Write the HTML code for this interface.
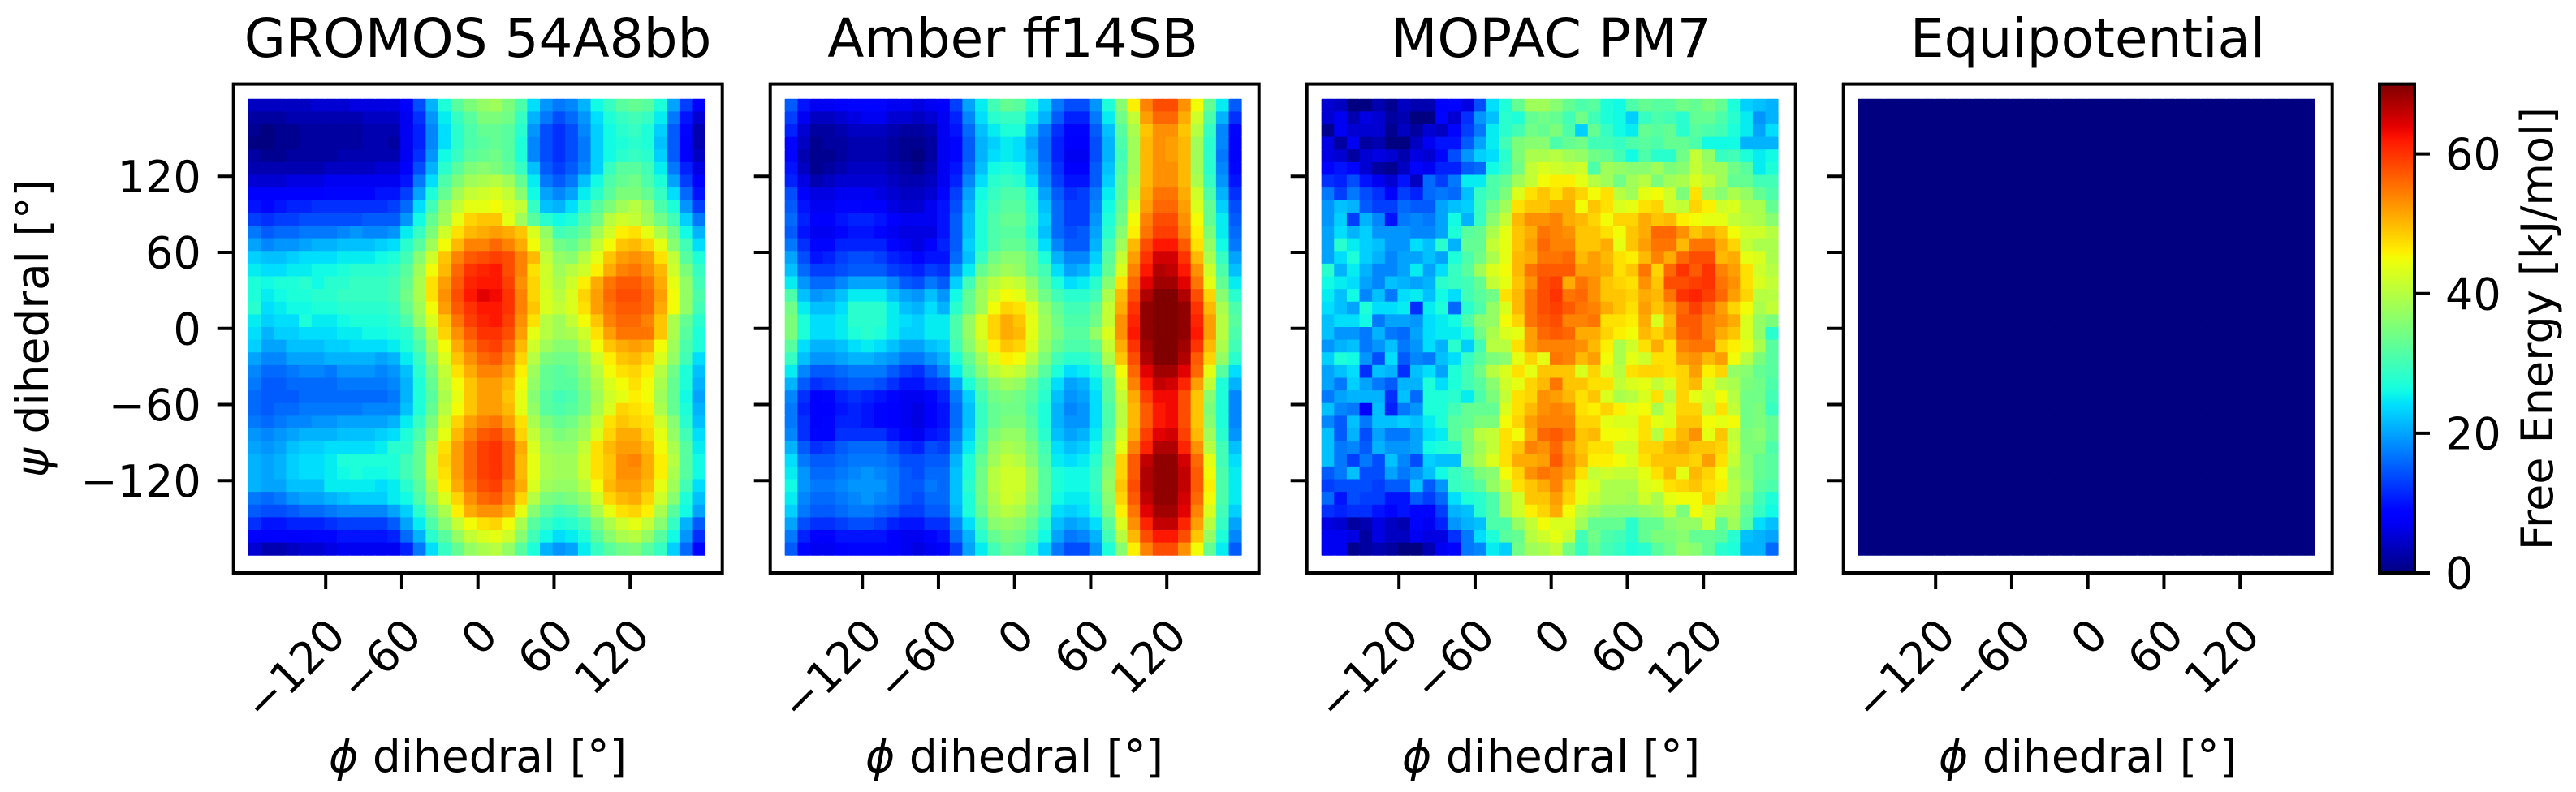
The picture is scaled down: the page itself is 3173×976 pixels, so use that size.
<!DOCTYPE html>
<html lang="en">
<head>
<meta charset="utf-8">
<title>Free energy surfaces</title>
<style>
html,body{margin:0;padding:0;background:#fff;}
svg{display:block;}
text{font-family:"DejaVu Sans","Liberation Sans",sans-serif;fill:#000;}
</style>
</head>
<body>
<svg id="figure" xmlns="http://www.w3.org/2000/svg" width="3173" height="976" viewBox="0 0 3173 976">
<defs>
<linearGradient id="jetGradient" x1="0" y1="1" x2="0" y2="0"></linearGradient>
</defs>
<rect x="0" y="0" width="3173" height="976" fill="#fff"/>
<text x="588.6" y="70" font-size="66" text-anchor="middle">GROMOS 54A8bb</text>
<text x="1247.6" y="70" font-size="66" text-anchor="middle">Amber ff14SB</text>
<text x="1910.6" y="70" font-size="66" text-anchor="middle">MOPAC PM7</text>
<text x="2571.6" y="70" font-size="66" text-anchor="middle">Equipotential</text>
<text x="0" y="0" font-size="55" text-anchor="middle" transform="translate(59 404.7) rotate(-90)"><tspan font-style="italic">ψ</tspan> dihedral [°]</text>
<text x="588.6" y="951" font-size="55" text-anchor="middle"><tspan font-style="italic">ϕ</tspan> dihedral [°]</text>
<text x="1249.6" y="951" font-size="55" text-anchor="middle"><tspan font-style="italic">ϕ</tspan> dihedral [°]</text>
<text x="1910.6" y="951" font-size="55" text-anchor="middle"><tspan font-style="italic">ϕ</tspan> dihedral [°]</text>
<text x="2571.6" y="951" font-size="55" text-anchor="middle"><tspan font-style="italic">ϕ</tspan> dihedral [°]</text>
<text x="0" y="0" font-size="54" text-anchor="middle" transform="translate(3144 405) rotate(-90)">Free Energy [kJ/mol]</text>
<g id="plots"></g>
<g id="colorbar"></g>
</svg>
<script>
const phiBins = [-176,-166,-156,-146,-136,-126,-116,-106,-96,-86,-76,-66,-56,-46,-36,-26,-16,-6,4,14,24,34,44,54,64,74,84,94,104,114,124,134,144,154,164,174];
const psiBins = [176,166,156,146,136,126,116,106,96,86,76,66,56,46,36,26,16,6,-4,-14,-24,-34,-44,-54,-64,-74,-84,-94,-104,-114,-124,-134,-144,-154,-164,-174];
const xTickValues = [-120,-60,0,60,120];
const xTickLabels = ['−120','−60','0','60','120'];
const yTickValues = [120,60,0,-60,-120];
const yTickLabels = ['120','60','0','−60','−120'];
const colorbarTicks = [0,20,40,60];
const colorbarLabels = ['0','20','40','60'];
const energyMax = 70;

const gromosValues = [
[4,4,4,4,4,5,5,5,6,6,6,6,8,14,21,27,32,35,37,38,35,31,24,19,17,18,21,26,29,32,33,32,27,20,13,8],
[2,2,2,3,3,3,3,3,3,4,4,4,7,12,19,25,29,32,35,35,34,29,21,17,14,16,19,24,27,29,30,29,25,17,10,5],
[1,0,1,1,2,2,2,2,2,3,3,3,7,11,18,24,28,31,33,33,32,28,19,14,12,14,18,23,26,28,29,27,23,15,9,3],
[0,0,1,1,2,2,2,2,2,3,3,2,7,11,18,24,28,31,32,33,32,27,18,14,12,14,17,23,26,27,28,27,22,15,8,3],
[2,1,1,2,2,2,2,3,3,3,3,3,7,12,19,26,29,32,33,34,32,27,18,14,12,14,17,23,26,28,29,28,23,15,8,4],
[3,3,3,3,3,3,4,4,4,4,5,5,8,14,21,28,32,35,36,35,33,29,22,15,13,15,18,23,29,32,32,30,25,17,11,6],
[5,5,5,6,6,6,7,7,7,7,7,7,10,17,24,31,35,38,39,40,38,33,25,17,15,17,22,26,31,33,34,31,27,20,13,8],
[8,8,8,8,8,8,9,9,9,9,10,10,13,20,27,33,38,41,42,43,41,36,26,20,18,20,25,28,32,35,35,33,29,24,16,10],
[10,9,10,11,11,12,12,12,12,12,12,13,16,24,30,37,41,44,44,45,43,41,29,22,21,24,28,32,35,38,40,37,31,27,19,13],
[13,12,13,13,14,14,14,14,14,15,15,15,19,26,33,38,44,48,49,49,44,38,32,28,26,27,31,34,40,42,41,38,34,30,23,17],
[17,15,16,16,17,17,17,18,19,18,18,19,25,29,35,42,47,50,51,52,51,49,43,37,30,31,33,38,42,46,47,44,39,34,26,21],
[20,18,19,19,20,21,21,22,22,22,23,24,28,32,38,45,50,54,54,56,54,51,45,39,34,33,36,41,45,49,50,48,44,36,30,24],
[23,22,22,23,24,24,24,25,25,25,26,27,30,36,42,49,54,57,58,59,58,54,50,41,37,36,40,44,49,52,53,52,47,41,32,27],
[25,24,24,25,25,26,26,27,28,28,28,29,32,38,45,50,56,60,61,62,58,54,47,42,38,40,42,46,51,54,55,53,50,42,35,29],
[27,26,27,27,28,26,28,28,29,29,29,30,33,39,47,52,57,61,62,62,59,53,48,42,39,42,46,51,55,57,57,55,51,44,37,30],
[27,25,26,27,27,28,28,29,29,29,29,30,34,39,47,53,58,62,64,63,60,54,48,43,40,43,48,52,56,58,58,56,52,45,37,31],
[28,24,25,26,26,27,27,28,28,28,28,29,33,38,45,52,57,60,62,62,60,54,49,43,41,43,47,52,55,57,57,56,51,45,37,30],
[25,23,24,24,27,25,25,26,27,27,27,28,31,37,43,49,55,59,61,62,59,53,47,40,38,41,45,49,54,56,56,54,49,39,33,28],
[24,21,23,23,24,24,24,25,25,26,26,27,28,33,40,48,53,57,60,60,58,52,44,40,38,39,42,47,52,55,55,55,49,39,32,27],
[23,20,20,22,22,22,23,23,24,24,24,25,27,31,38,45,51,55,58,59,56,50,42,38,36,36,40,45,49,51,52,51,45,38,31,27],
[20,18,18,20,20,20,21,21,21,21,20,21,25,29,36,43,49,53,56,57,54,48,40,35,34,34,37,42,46,49,50,48,43,37,30,24],
[18,16,16,17,18,18,17,19,19,19,18,19,22,28,34,41,47,51,54,54,52,46,38,33,32,33,36,40,45,47,48,46,40,34,27,22],
[17,15,15,16,16,16,16,17,17,17,17,18,21,27,33,40,45,49,52,52,50,45,37,33,32,32,35,39,43,45,47,45,39,33,27,21],
[16,15,15,15,16,16,16,16,16,16,16,17,21,27,32,39,44,49,52,52,49,44,36,32,30,31,34,38,42,44,46,45,38,33,26,20],
[16,15,16,16,17,17,17,17,17,18,18,18,22,27,33,40,45,49,52,52,50,44,37,32,31,32,34,39,43,48,47,46,39,33,27,21],
[17,16,17,18,18,19,19,20,20,20,20,21,25,29,35,42,48,52,54,55,52,47,39,35,33,34,37,41,47,49,48,47,42,36,28,22],
[19,18,19,20,21,21,21,22,22,22,23,24,27,31,37,44,50,54,57,58,55,48,41,37,35,36,38,43,48,51,51,48,44,37,30,24],
[20,19,20,22,23,23,24,24,24,24,25,28,28,33,40,47,52,56,59,60,57,51,43,38,37,37,41,47,50,52,52,50,45,39,32,25],
[21,20,21,23,24,24,25,27,27,27,27,27,30,33,41,48,52,56,59,60,57,50,44,39,38,38,42,47,49,53,54,51,46,40,32,26],
[21,20,21,23,24,24,25,26,27,26,26,27,30,33,41,47,52,56,59,60,57,50,44,39,38,38,42,47,49,53,53,51,46,39,32,26],
[21,20,20,22,22,22,25,25,25,25,24,25,28,32,39,46,51,55,58,59,55,51,43,38,37,37,40,45,50,52,52,50,44,38,30,24],
[17,16,17,19,20,20,21,22,23,23,23,25,26,31,37,43,48,53,56,57,54,48,40,35,34,35,37,42,48,50,51,48,42,36,27,22],
[15,14,14,15,16,16,17,18,18,18,18,20,23,28,34,39,46,51,53,53,51,44,36,32,30,31,34,39,44,47,48,46,39,32,26,20],
[12,10,10,11,11,11,12,13,13,13,13,15,20,25,31,36,41,45,47,48,45,39,32,29,27,28,30,35,39,42,44,41,36,29,21,15],
[8,8,8,8,8,9,9,10,10,10,10,11,16,21,28,32,37,41,43,44,42,36,30,26,24,25,27,32,36,39,40,37,32,26,19,12],
[5,3,3,4,5,5,6,7,7,7,7,7,11,17,24,29,33,37,39,40,37,32,27,21,19,20,25,29,32,34,35,32,29,23,16,9]
];
const amberValues = [
[15,10,7,7,8,9,9,9,7,7,6,7,8,13,20,25,30,33,32,27,23,17,14,14,19,27,36,46,54,58,58,53,45,33,25,15],
[13,7,4,4,5,6,7,7,5,5,4,5,7,11,18,24,28,29,29,25,21,15,11,11,17,25,34,41,52,56,56,51,42,31,21,12],
[11,5,2,2,3,4,4,4,3,2,2,3,7,10,16,22,25,27,27,22,17,12,9,9,15,22,32,39,49,53,53,49,40,29,18,9],
[9,4,1,2,2,3,3,3,2,1,1,2,7,9,15,21,23,25,24,20,16,11,8,8,14,21,31,38,50,53,52,50,38,28,18,8],
[9,3,1,1,2,3,3,3,2,1,0,2,7,9,15,21,24,25,24,21,16,11,7,7,14,21,30,38,50,53,52,50,38,28,17,8],
[10,4,1,2,3,4,4,4,3,2,1,3,7,10,16,22,26,27,26,22,17,12,8,8,15,22,31,38,50,53,53,50,38,28,18,9],
[11,6,3,4,5,5,5,5,4,3,3,4,7,11,18,24,28,29,28,24,18,13,10,10,15,23,32,39,50,53,53,50,39,29,19,10],
[14,8,6,6,7,7,7,6,5,4,4,5,9,13,20,26,29,31,31,27,20,15,12,13,17,25,32,40,51,55,55,51,42,31,21,12],
[15,10,7,7,9,9,8,8,6,5,5,7,10,14,21,27,30,32,32,28,22,16,13,13,18,26,33,43,52,56,56,52,43,33,23,14],
[16,11,8,8,10,11,11,10,8,7,7,7,10,15,22,27,31,33,33,29,23,16,13,13,19,27,34,45,54,58,58,53,45,33,25,15],
[15,10,7,7,9,10,10,9,7,6,6,6,10,15,22,27,31,32,32,28,22,16,14,15,20,28,36,46,55,59,59,54,46,35,25,16],
[17,12,9,9,11,11,11,11,9,7,6,8,11,15,23,27,31,33,33,30,24,18,15,15,21,30,38,50,58,62,62,57,47,37,26,17],
[20,14,10,11,13,14,14,13,11,10,9,10,10,16,22,29,34,36,36,33,27,21,18,18,23,32,41,52,60,65,65,60,50,39,29,20],
[22,16,13,13,14,15,15,15,13,12,11,13,12,19,25,33,36,38,37,33,30,24,20,21,25,33,43,54,62,67,66,62,53,42,31,22],
[25,19,16,16,18,20,20,20,18,15,14,17,15,23,30,37,40,42,41,37,32,27,24,25,28,36,47,56,64,68,68,64,55,44,33,25],
[31,22,19,20,22,25,25,25,22,20,19,22,19,26,33,38,42,45,44,39,34,30,28,28,30,39,50,58,67,70,70,67,58,48,36,28],
[34,25,22,22,24,28,28,28,25,22,21,24,21,28,33,38,45,48,47,43,37,33,30,30,33,41,51,60,69,70,70,69,60,50,39,31],
[35,27,24,24,25,28,28,28,25,24,23,25,25,31,37,43,48,51,49,44,38,34,31,31,34,41,53,61,69,70,70,69,61,52,40,32],
[35,27,24,24,25,27,28,27,25,23,23,25,25,31,37,43,48,51,50,44,38,35,32,32,37,43,53,62,69,70,70,69,62,52,40,31],
[32,24,21,21,22,24,25,24,22,20,20,22,23,30,36,41,46,49,48,43,37,33,31,31,33,41,51,60,68,70,70,68,60,50,39,30],
[29,22,19,19,20,21,21,20,19,17,17,19,21,27,33,38,43,46,45,40,35,30,28,28,30,39,49,58,67,70,70,67,57,48,37,28],
[25,18,15,15,16,17,17,17,15,13,12,15,18,25,31,36,40,42,41,37,32,27,24,25,27,34,45,56,64,68,68,64,56,44,32,24],
[21,15,12,13,14,15,15,14,12,10,10,12,13,20,27,32,36,38,37,33,29,24,20,21,25,32,43,54,62,66,65,61,52,41,27,21],
[18,12,8,9,11,12,11,10,9,7,7,9,11,17,23,30,34,35,34,32,28,22,19,20,24,32,41,51,59,63,63,58,49,36,27,18],
[17,11,8,8,10,11,10,9,8,7,6,8,10,16,22,29,33,34,34,31,27,21,18,19,24,31,40,50,57,62,63,58,49,35,27,18],
[17,12,8,9,11,11,10,9,8,7,6,8,10,16,22,29,33,35,35,32,27,21,19,19,24,31,40,50,57,62,63,58,49,36,27,18],
[18,12,9,9,12,12,12,12,10,8,7,10,11,17,23,30,35,37,37,33,28,22,20,21,25,32,42,51,59,64,65,59,50,38,28,19],
[21,15,12,13,15,16,16,16,14,12,11,14,13,19,25,31,37,39,38,35,30,24,22,23,26,34,44,54,61,67,67,61,53,40,30,22],
[24,17,15,15,16,17,17,17,16,14,14,15,15,21,27,33,38,41,40,36,31,25,24,25,28,35,48,57,66,69,69,65,56,44,30,24],
[25,19,16,16,17,18,19,18,17,15,14,16,16,22,27,34,40,42,42,38,32,27,26,26,29,36,48,57,67,69,69,66,57,45,31,25],
[26,19,17,17,18,19,19,19,17,15,15,17,16,22,28,34,40,42,42,38,32,27,26,26,29,37,49,58,67,69,69,66,57,46,31,25],
[25,18,16,16,17,18,19,18,17,15,14,16,16,22,27,34,39,42,41,37,32,26,25,25,28,36,48,57,66,69,69,65,56,45,31,25],
[23,17,15,15,16,17,17,16,15,13,13,15,15,21,27,33,38,40,39,35,31,24,23,24,27,35,46,55,64,68,68,64,54,43,30,23],
[20,14,12,12,13,14,14,13,11,10,10,12,12,18,24,30,36,37,36,33,28,22,20,21,24,32,43,53,61,66,66,61,52,40,29,20],
[17,11,8,8,10,10,10,10,8,7,7,9,10,16,21,28,33,35,34,31,26,20,17,18,21,30,40,50,58,62,62,58,49,37,27,18],
[15,9,7,7,8,9,9,9,8,7,6,7,8,13,20,25,30,33,32,28,23,17,14,14,19,27,36,46,54,58,58,53,45,33,25,15]
];
const mopacValues = [
[5,4,0,0,3,1,4,3,3,8,9,6,14,24,27,33,38,38,36,33,31,32,27,26,31,33,32,32,34,33,35,33,27,23,22,21],
[5,7,3,6,5,2,3,0,0,9,5,12,19,22,28,27,33,34,33,30,34,30,27,26,23,29,31,30,28,33,33,31,28,25,19,21],
[1,7,5,5,5,1,4,2,5,4,9,13,17,25,28,30,34,33,35,31,23,33,29,26,25,33,32,33,28,32,31,30,27,25,20,24],
[6,2,7,2,3,0,0,4,7,10,10,15,20,25,30,35,36,36,31,33,34,30,30,29,31,32,31,33,33,31,26,26,26,21,21,21],
[6,5,2,5,6,5,3,6,5,9,14,19,23,24,28,35,39,39,40,38,37,34,33,30,26,31,28,28,34,41,37,29,30,27,25,26],
[9,10,9,5,2,1,4,9,7,11,11,15,16,26,29,34,41,43,42,41,42,31,38,37,36,36,38,35,36,41,38,38,34,32,25,27],
[12,11,14,10,7,5,10,4,16,13,17,25,25,31,33,38,41,45,46,46,44,40,38,34,38,40,35,38,39,43,41,38,33,33,30,30],
[17,13,17,14,12,8,13,11,16,17,16,22,29,31,35,43,47,49,47,50,48,45,47,40,38,44,45,42,35,47,38,36,39,37,33,31],
[19,22,21,15,13,13,16,15,15,20,22,23,29,34,38,47,49,49,51,51,45,49,47,43,44,47,48,42,41,48,46,42,43,39,39,33],
[19,23,13,21,18,10,17,18,17,20,26,21,29,36,41,50,53,53,54,51,50,48,45,48,48,51,49,50,46,45,44,44,41,40,39,36],
[20,24,21,23,19,19,19,18,18,20,27,32,33,39,44,49,51,55,54,53,49,49,47,45,49,51,56,56,53,49,51,49,45,42,42,40],
[20,28,25,23,22,19,19,24,22,28,21,33,33,41,44,49,52,56,54,54,49,49,51,44,49,52,55,55,50,55,55,51,48,41,39,39],
[20,24,27,23,21,18,20,20,22,20,27,31,34,39,44,50,51,55,55,56,50,52,50,47,46,50,54,51,56,58,58,50,51,44,43,39],
[28,21,25,21,18,18,20,25,20,24,29,32,38,43,45,50,55,57,57,57,52,52,51,47,49,55,48,56,60,57,60,54,52,47,42,40],
[26,25,24,20,18,22,21,20,21,28,29,30,33,41,44,49,53,58,59,51,55,53,49,48,47,53,49,58,58,59,60,55,53,47,43,41],
[25,22,26,18,22,17,24,25,22,26,24,30,32,34,47,50,55,58,60,55,56,53,49,49,48,51,50,55,60,61,59,56,52,48,40,40],
[24,22,20,27,24,24,25,12,25,27,16,28,31,37,43,50,55,58,59,57,55,54,51,49,47,52,49,52,56,59,56,52,48,45,39,41],
[22,24,24,26,17,20,20,19,24,25,26,31,36,37,45,48,55,57,58,54,54,55,47,47,46,51,43,50,57,57,54,53,51,43,37,35],
[22,19,19,17,21,17,16,20,24,25,25,27,34,39,43,44,52,56,57,56,51,51,48,46,45,50,48,51,56,57,54,51,49,43,37,28],
[19,21,22,17,19,22,17,19,24,21,28,23,30,40,40,47,52,54,54,54,53,50,46,39,42,47,51,47,54,55,55,48,46,44,39,32],
[23,27,26,19,14,24,15,18,17,22,24,29,32,35,36,44,48,44,55,54,50,52,45,39,44,42,47,47,52,53,50,52,45,40,35,32],
[20,22,24,12,22,21,12,22,24,20,27,30,34,40,43,47,44,49,49,49,43,48,43,40,47,48,48,47,48,52,46,48,37,36,33,32],
[20,17,23,20,17,15,21,21,27,24,27,30,32,36,42,44,48,50,55,49,49,47,47,41,43,44,41,43,48,50,43,40,39,35,34,31],
[17,20,21,21,21,12,22,16,27,27,28,25,31,35,41,47,48,53,52,50,47,49,43,39,40,43,47,40,48,44,42,45,40,34,34,30],
[22,18,17,8,22,11,17,19,27,27,30,33,33,33,43,47,50,53,54,53,47,46,48,46,44,45,39,43,48,48,41,47,41,34,35,29],
[18,15,22,17,22,22,23,22,25,27,32,33,35,35,45,48,52,54,54,54,48,48,44,43,43,47,44,43,49,49,45,44,45,34,35,33],
[22,15,21,14,20,17,17,20,24,25,32,35,40,41,47,45,51,56,57,55,49,50,45,45,44,47,40,47,50,53,44,49,41,35,36,33],
[22,17,18,15,21,19,19,20,26,27,28,35,38,41,47,49,54,53,56,52,49,47,47,42,42,48,48,50,51,49,49,48,42,35,35,31],
[22,17,13,17,14,22,18,14,23,22,22,36,39,43,47,51,51,52,57,53,50,46,46,45,43,47,49,49,49,48,52,47,41,36,33,32],
[15,17,22,14,14,20,17,19,22,26,29,31,35,36,45,48,53,55,54,52,47,41,42,41,41,44,47,50,44,50,48,45,39,36,33,32],
[13,14,14,14,13,15,15,22,15,19,29,30,32,37,41,47,49,51,54,49,44,43,39,39,39,43,44,47,48,49,47,46,40,37,32,31],
[16,10,14,13,13,10,10,15,13,16,24,27,28,31,38,42,49,49,52,48,44,41,39,39,38,42,39,44,45,45,48,42,40,35,30,27],
[12,11,12,12,10,9,10,9,9,13,21,22,28,31,38,42,46,48,51,45,40,38,36,36,36,37,38,41,35,45,42,39,39,33,29,26],
[6,5,2,3,6,4,3,9,7,11,19,21,22,31,31,37,41,45,43,43,38,33,33,33,28,33,33,36,37,37,42,33,38,32,24,22],
[7,7,6,2,6,4,4,7,6,6,12,17,24,27,32,33,40,42,44,41,30,34,31,30,28,33,35,35,36,33,33,32,28,22,21,20],
[7,7,1,2,3,2,0,0,3,7,9,17,18,25,23,34,38,39,41,34,29,33,30,29,27,28,32,34,37,36,33,28,27,21,21,16]
];
const equipotentialValues = [
[0,0,0,0,0,0,0,0,0,0,0,0,0,0,0,0,0,0,0,0,0,0,0,0,0,0,0,0,0,0,0,0,0,0,0,0],
[0,0,0,0,0,0,0,0,0,0,0,0,0,0,0,0,0,0,0,0,0,0,0,0,0,0,0,0,0,0,0,0,0,0,0,0],
[0,0,0,0,0,0,0,0,0,0,0,0,0,0,0,0,0,0,0,0,0,0,0,0,0,0,0,0,0,0,0,0,0,0,0,0],
[0,0,0,0,0,0,0,0,0,0,0,0,0,0,0,0,0,0,0,0,0,0,0,0,0,0,0,0,0,0,0,0,0,0,0,0],
[0,0,0,0,0,0,0,0,0,0,0,0,0,0,0,0,0,0,0,0,0,0,0,0,0,0,0,0,0,0,0,0,0,0,0,0],
[0,0,0,0,0,0,0,0,0,0,0,0,0,0,0,0,0,0,0,0,0,0,0,0,0,0,0,0,0,0,0,0,0,0,0,0],
[0,0,0,0,0,0,0,0,0,0,0,0,0,0,0,0,0,0,0,0,0,0,0,0,0,0,0,0,0,0,0,0,0,0,0,0],
[0,0,0,0,0,0,0,0,0,0,0,0,0,0,0,0,0,0,0,0,0,0,0,0,0,0,0,0,0,0,0,0,0,0,0,0],
[0,0,0,0,0,0,0,0,0,0,0,0,0,0,0,0,0,0,0,0,0,0,0,0,0,0,0,0,0,0,0,0,0,0,0,0],
[0,0,0,0,0,0,0,0,0,0,0,0,0,0,0,0,0,0,0,0,0,0,0,0,0,0,0,0,0,0,0,0,0,0,0,0],
[0,0,0,0,0,0,0,0,0,0,0,0,0,0,0,0,0,0,0,0,0,0,0,0,0,0,0,0,0,0,0,0,0,0,0,0],
[0,0,0,0,0,0,0,0,0,0,0,0,0,0,0,0,0,0,0,0,0,0,0,0,0,0,0,0,0,0,0,0,0,0,0,0],
[0,0,0,0,0,0,0,0,0,0,0,0,0,0,0,0,0,0,0,0,0,0,0,0,0,0,0,0,0,0,0,0,0,0,0,0],
[0,0,0,0,0,0,0,0,0,0,0,0,0,0,0,0,0,0,0,0,0,0,0,0,0,0,0,0,0,0,0,0,0,0,0,0],
[0,0,0,0,0,0,0,0,0,0,0,0,0,0,0,0,0,0,0,0,0,0,0,0,0,0,0,0,0,0,0,0,0,0,0,0],
[0,0,0,0,0,0,0,0,0,0,0,0,0,0,0,0,0,0,0,0,0,0,0,0,0,0,0,0,0,0,0,0,0,0,0,0],
[0,0,0,0,0,0,0,0,0,0,0,0,0,0,0,0,0,0,0,0,0,0,0,0,0,0,0,0,0,0,0,0,0,0,0,0],
[0,0,0,0,0,0,0,0,0,0,0,0,0,0,0,0,0,0,0,0,0,0,0,0,0,0,0,0,0,0,0,0,0,0,0,0],
[0,0,0,0,0,0,0,0,0,0,0,0,0,0,0,0,0,0,0,0,0,0,0,0,0,0,0,0,0,0,0,0,0,0,0,0],
[0,0,0,0,0,0,0,0,0,0,0,0,0,0,0,0,0,0,0,0,0,0,0,0,0,0,0,0,0,0,0,0,0,0,0,0],
[0,0,0,0,0,0,0,0,0,0,0,0,0,0,0,0,0,0,0,0,0,0,0,0,0,0,0,0,0,0,0,0,0,0,0,0],
[0,0,0,0,0,0,0,0,0,0,0,0,0,0,0,0,0,0,0,0,0,0,0,0,0,0,0,0,0,0,0,0,0,0,0,0],
[0,0,0,0,0,0,0,0,0,0,0,0,0,0,0,0,0,0,0,0,0,0,0,0,0,0,0,0,0,0,0,0,0,0,0,0],
[0,0,0,0,0,0,0,0,0,0,0,0,0,0,0,0,0,0,0,0,0,0,0,0,0,0,0,0,0,0,0,0,0,0,0,0],
[0,0,0,0,0,0,0,0,0,0,0,0,0,0,0,0,0,0,0,0,0,0,0,0,0,0,0,0,0,0,0,0,0,0,0,0],
[0,0,0,0,0,0,0,0,0,0,0,0,0,0,0,0,0,0,0,0,0,0,0,0,0,0,0,0,0,0,0,0,0,0,0,0],
[0,0,0,0,0,0,0,0,0,0,0,0,0,0,0,0,0,0,0,0,0,0,0,0,0,0,0,0,0,0,0,0,0,0,0,0],
[0,0,0,0,0,0,0,0,0,0,0,0,0,0,0,0,0,0,0,0,0,0,0,0,0,0,0,0,0,0,0,0,0,0,0,0],
[0,0,0,0,0,0,0,0,0,0,0,0,0,0,0,0,0,0,0,0,0,0,0,0,0,0,0,0,0,0,0,0,0,0,0,0],
[0,0,0,0,0,0,0,0,0,0,0,0,0,0,0,0,0,0,0,0,0,0,0,0,0,0,0,0,0,0,0,0,0,0,0,0],
[0,0,0,0,0,0,0,0,0,0,0,0,0,0,0,0,0,0,0,0,0,0,0,0,0,0,0,0,0,0,0,0,0,0,0,0],
[0,0,0,0,0,0,0,0,0,0,0,0,0,0,0,0,0,0,0,0,0,0,0,0,0,0,0,0,0,0,0,0,0,0,0,0],
[0,0,0,0,0,0,0,0,0,0,0,0,0,0,0,0,0,0,0,0,0,0,0,0,0,0,0,0,0,0,0,0,0,0,0,0],
[0,0,0,0,0,0,0,0,0,0,0,0,0,0,0,0,0,0,0,0,0,0,0,0,0,0,0,0,0,0,0,0,0,0,0,0],
[0,0,0,0,0,0,0,0,0,0,0,0,0,0,0,0,0,0,0,0,0,0,0,0,0,0,0,0,0,0,0,0,0,0,0,0],
[0,0,0,0,0,0,0,0,0,0,0,0,0,0,0,0,0,0,0,0,0,0,0,0,0,0,0,0,0,0,0,0,0,0,0,0]
];
const panelSeries = [gromosValues, amberValues, mopacValues, equipotentialValues];
const panelKeys = ['gromos', 'amber', 'mopac', 'equipotential'];

const SVG_NS = 'http://www.w3.org/2000/svg';
const AX_FIRST_LEFT = 287.7, AX_STEP = 661, AX_SIZE = 602, AX_TOP = 103.6, AX_BOTTOM = 706;
const DEG_PX = 1.5625, TICK_LEN = 20, SPINE = 4, CELL = 16.1;

function axisX(panel, phi) {
  return AX_FIRST_LEFT + AX_STEP * panel + AX_SIZE / 2 + phi * DEG_PX;
}
function axisY(psi) {
  return (AX_TOP + AX_BOTTOM) / 2 - psi * DEG_PX;
}
function lerpStops(stops, t) {
  for (let i = 1; i < stops.length; i++) {
    if (t <= stops[i][0]) {
      const a = stops[i - 1], b = stops[i];
      return a[1] + (b[1] - a[1]) * (t - a[0]) / (b[0] - a[0]);
    }
  }
  return stops[stops.length - 1][1];
}
function jet(value) {
  const t = Math.max(0, Math.min(1, value / energyMax));
  const r = lerpStops([[0,0],[0.35,0],[0.66,1],[0.89,1],[1,0.5]], t);
  const g = lerpStops([[0,0],[0.125,0],[0.375,1],[0.64,1],[0.91,0],[1,0]], t);
  const b = lerpStops([[0,0.5],[0.11,1],[0.34,1],[0.65,0],[1,0]], t);
  return 'rgb(' + Math.round(r * 255) + ',' + Math.round(g * 255) + ',' + Math.round(b * 255) + ')';
}
function make(tag, attrs, parent) {
  const el = document.createElementNS(SVG_NS, tag);
  for (const k in attrs) el.setAttribute(k, attrs[k]);
  parent.appendChild(el);
  return el;
}

const plots = document.getElementById('plots');
panelSeries.forEach(function (series, p) {
  const left = AX_FIRST_LEFT + AX_STEP * p;
  const group = make('g', {}, plots);
  
  
  const cells = make('g', {}, group);
  
  
  series.forEach(function (row, r) {
    row.forEach(function (value, c) {
      const cell = make('rect', {
        x: (axisX(p, phiBins[c]) - CELL / 2).toFixed(2),
        y: (axisY(psiBins[r]) - CELL / 2).toFixed(2),
        width: CELL, height: CELL, rx: 0.8, fill: jet(value)
      }, cells);
      
      
    });
  });
  xTickValues.forEach(function (tick, i) {
    const x = axisX(p, tick);
    const mark = make('line', { x1: x, x2: x, y1: AX_BOTTOM, y2: AX_BOTTOM + TICK_LEN, stroke: '#000', 'stroke-width': SPINE }, group);
    
    
    const label = make('text', { 'font-size': 54, 'text-anchor': 'end', transform: 'translate(' + (x + 27) + ' 786) rotate(-45)' }, group);
    label.textContent = xTickLabels[i];
    
    
  });
  yTickValues.forEach(function (tick, i) {
    const y = axisY(tick);
    const mark = make('line', { x1: left, x2: left - TICK_LEN, y1: y, y2: y, stroke: '#000', 'stroke-width': SPINE }, group);
    
    
    if (p === 0) {
      const label = make('text', { x: left - 40, y: y + 19.5, 'font-size': 54, 'text-anchor': 'end' }, group);
      label.textContent = yTickLabels[i];
      
      
    }
  });
  const frame = make('rect', { x: left, y: AX_TOP, width: AX_SIZE, height: AX_BOTTOM - AX_TOP, fill: 'none', stroke: '#000', 'stroke-width': SPINE }, group);
  
  
});

const gradient = document.getElementById('jetGradient');
for (let i = 0; i <= 70; i++) {
  make('stop', { offset: (i / 70), 'stop-color': jet(i / 70 * energyMax) }, gradient);
}
const cbar = document.getElementById('colorbar');
const CB_LEFT = 2931, CB_RIGHT = 2974;
const ramp = make('rect', { x: CB_LEFT, y: AX_TOP, width: CB_RIGHT - CB_LEFT, height: AX_BOTTOM - AX_TOP, fill: 'url(#jetGradient)', stroke: '#000', 'stroke-width': SPINE }, cbar);


colorbarTicks.forEach(function (tick, i) {
  const y = AX_BOTTOM - (AX_BOTTOM - AX_TOP) * tick / energyMax;
  const mark = make('line', { x1: CB_RIGHT, x2: CB_RIGHT + 19, y1: y, y2: y, stroke: '#000', 'stroke-width': SPINE }, cbar);
  
  
  const label = make('text', { x: 3012, y: y + 19.5, 'font-size': 54 }, cbar);
  label.textContent = colorbarLabels[i];
  
  
});
</script>
</body>
</html>
